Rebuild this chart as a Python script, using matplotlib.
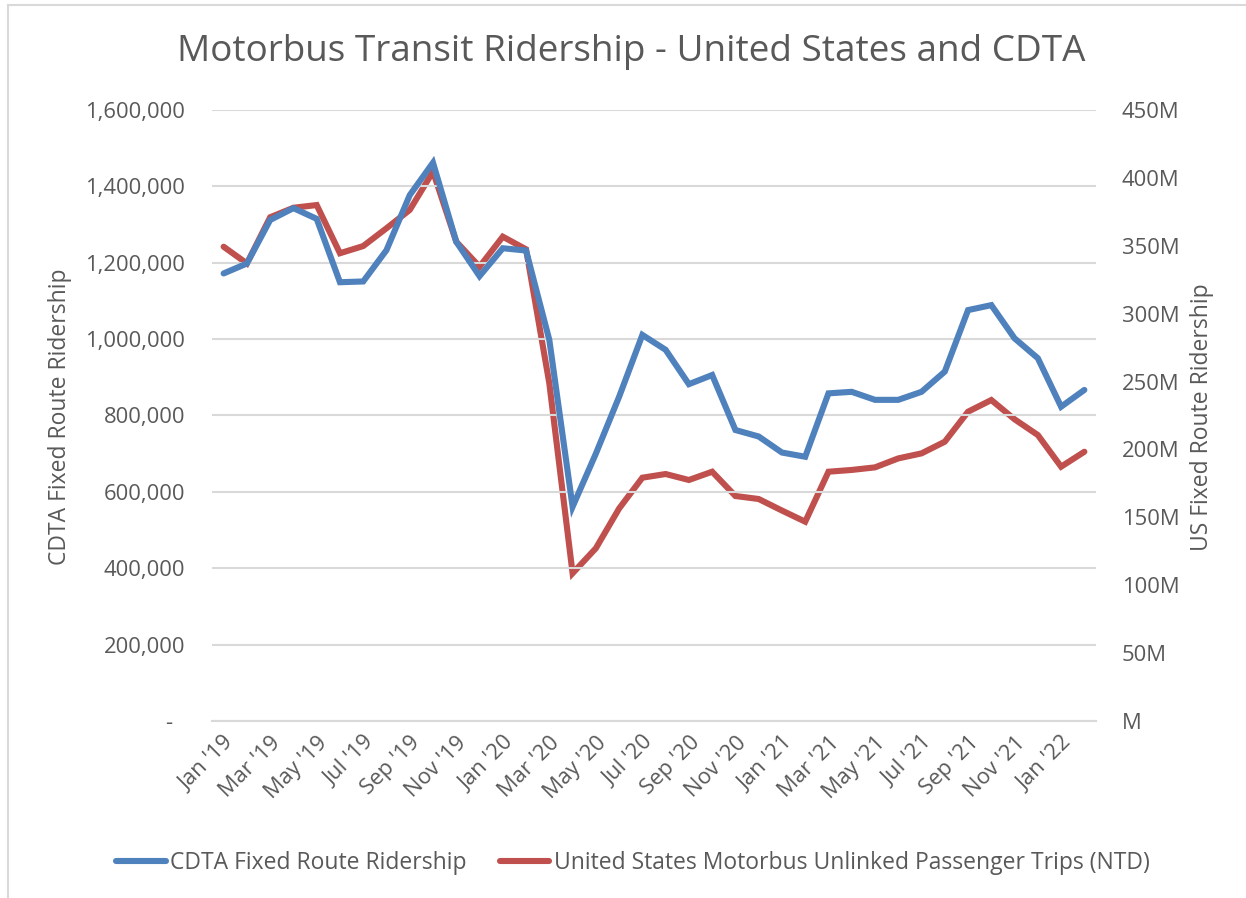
import matplotlib
matplotlib.use("Agg")
import matplotlib.pyplot as plt
from matplotlib.lines import Line2D

months = ["Jan '19", "Feb '19", "Mar '19", "Apr '19", "May '19", "Jun '19", "Jul '19", "Aug '19",
          "Sep '19", "Oct '19", "Nov '19", "Dec '19",
          "Jan '20", "Feb '20", "Mar '20", "Apr '20", "May '20", "Jun '20", "Jul '20", "Aug '20",
          "Sep '20", "Oct '20", "Nov '20", "Dec '20",
          "Jan '21", "Feb '21", "Mar '21", "Apr '21", "May '21", "Jun '21", "Jul '21", "Aug '21",
          "Sep '21", "Oct '21", "Nov '21", "Dec '21",
          "Jan '22", "Feb '22"]

cdta = [1172000, 1198000, 1312000, 1343000, 1315000, 1149000, 1151000, 1233000, 1377000, 1462000, 1255000, 1165000,
        1238000, 1232000, 998000, 561000, 700000, 849000, 1011000, 972000, 882000, 906000, 762000, 745000,
        703000, 692000, 858000, 862000, 841000, 841000, 862000, 915000, 1076000, 1089000, 1002000, 950000,
        823000, 867000]

us_millions = [349.3, 337.0, 371.0, 378.0, 380.0, 344.5, 349.8, 362.9, 376.4, 404.6, 353.0, 334.6,
               356.7, 347.4, 248.7, 108.8, 127.2, 156.5, 179.2, 181.9, 177.5, 183.6, 165.7, 163.5,
               155.0, 146.8, 183.6, 184.9, 186.8, 193.4, 197.1, 205.7, 227.8, 236.4, 222.2, 210.6,
               187.3, 198.3]

left_ticks = [0, 200000, 400000, 600000, 800000, 1000000, 1200000, 1400000, 1600000]
left_labels = ["-  ", "200,000", "400,000", "600,000", "800,000", "1,000,000", "1,200,000", "1,400,000", "1,600,000"]
right_ticks = [0, 50, 100, 150, 200, 250, 300, 350, 400, 450]
right_labels = ["M", "50M", "100M", "150M", "200M", "250M", "300M", "350M", "400M", "450M"]

title = "Motorbus Transit Ridership - United States and CDTA"
series_names = ["CDTA Fixed Route Ridership", "United States Motorbus Unlinked Passenger Trips (NTD)"]

BLUE = "#4F81BD"
RED = "#C0504D"
TXT = "#595959"
GRID = "#D9D9D9"
FONT = "Open Sans"

plt.rcParams['font.family'] = [FONT, 'DejaVu Sans']

W, H = 1246, 898
fig = plt.figure(figsize=(W / 100, H / 100), dpi=100)
fig.patch.set_facecolor("white")

ax = fig.add_axes([212 / W, 1 - 721 / H, 884 / W, 611 / H])
ax2 = ax.twinx()

x = list(range(len(months)))
ax.plot(x, cdta, color=BLUE, lw=4.4, solid_joinstyle="miter", solid_capstyle="round", zorder=3)
ax2.plot(x, us_millions, color=RED, lw=4.4, solid_joinstyle="miter", solid_capstyle="round", zorder=3)
ax.set_zorder(ax2.get_zorder() + 1)
ax.patch.set_visible(False)

ax.set_xlim(-0.5, len(months) - 0.5)
ax.set_ylim(0, 1600000)
ax2.set_ylim(0, 450)

ax.set_yticks(left_ticks)
ax.set_yticklabels(left_labels)
ax2.set_yticks(right_ticks)
ax2.set_yticklabels(right_labels)
ax.grid(axis="y", color=GRID, lw=1.5)
ax.set_axisbelow(True)

ax.set_xticks(x[::2])
ax.set_xticklabels(months[::2], rotation=45, ha="right", rotation_mode="anchor")

for a in (ax, ax2):
    for s in a.spines.values():
        s.set_visible(False)
    a.tick_params(length=0, colors=TXT, labelsize=15.8)
ax.tick_params(axis="y", pad=19.5)
ax2.tick_params(axis="y", pad=18.7)
ax.tick_params(axis="x", pad=8)
ax.spines["bottom"].set_visible(True)
ax.spines["bottom"].set_color(GRID)
ax.spines["bottom"].set_linewidth(1.5)

ax.set_ylabel("CDTA Fixed Route Ridership", color=TXT, fontsize=16.5)
ax.yaxis.set_label_coords(-0.158, 0.498)
ax2.set_ylabel("US Fixed Route Ridership", color=TXT, fontsize=16.5, rotation=90)
ax2.yaxis.set_label_coords(1.1063, 0.498)

fig.text(631 / W, 1 - 52 / H, title, ha="center", va="center", fontsize=26.6, color=TXT)

handles = [Line2D([], [], color=BLUE, lw=4.4, solid_capstyle="round"),
           Line2D([], [], color=RED, lw=4.4, solid_capstyle="round")]
leg = fig.legend(handles, series_names, loc="center", bbox_to_anchor=(633 / W, 1 - 863 / H),
                 ncol=2, frameon=False, fontsize=16.5, handlelength=2.15, handletextpad=0.2,
                 columnspacing=1.45, labelcolor=TXT, borderpad=0, borderaxespad=0)

# outer chart frame
fig.add_artist(Line2D([8 / W, 8 / W], [0, 1 - 5 / H], transform=fig.transFigure, color=GRID, lw=1.5))
fig.add_artist(Line2D([8 / W, 1], [1 - 5 / H, 1 - 5 / H], transform=fig.transFigure, color=GRID, lw=1.5))

fig.savefig("out.png", dpi=100, facecolor="white")
